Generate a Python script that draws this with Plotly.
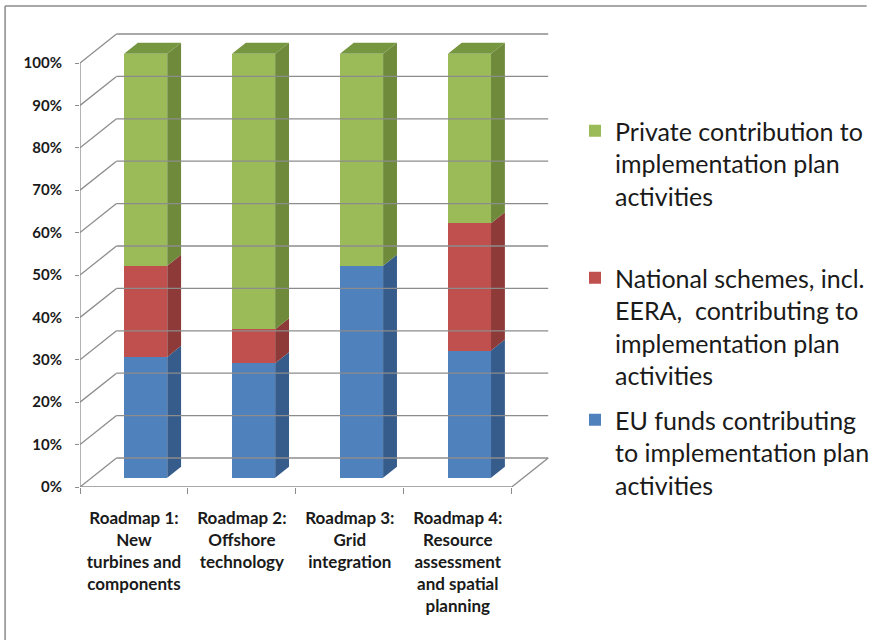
import plotly.graph_objects as go

# ---- data -------------------------------------------------------------
categories = [
    "Roadmap 1:<br>New<br>turbines and<br>components",
    "Roadmap 2:<br>Offshore<br>technology",
    "Roadmap 3:<br>Grid<br>integration",
    "Roadmap 4:<br>Resource<br>assessment<br>and spatial<br>planning",
]
eu_funds = [28.5, 27, 50, 30]
national_schemes = [21.5, 8, 0, 30]
private_contrib = [50, 65, 50, 40]
y_ticks = [0, 10, 20, 30, 40, 50, 60, 70, 80, 90, 100]

series_names = [
    "EU funds contributing<br>to implementation plan<br>activities",
    "National schemes, incl.<br>EERA,  contributing to<br>implementation plan<br>activities",
    "Private contribution to<br>implementation plan<br>activities",
]
series_values = [eu_funds, national_schemes, private_contrib]
front_colors = ["#4F81BD", "#C0504D", "#9BBB59"]
side_colors = ["#365C8C", "#8E3A38", "#6E8A3A"]
top_colors = ["#446FA3", "#A54542", "#779640"]
legend_ids = ["legend3", "legend2", "legend"]

# ---- geometry of the oblique 3-D view (in axis units) -----------------
FONT = "Lato"
W, H = 878, 640
M_L, M_R, M_T, M_B = 80, 308, 25, 153
PX_PER_CAT = 109.5
PX_PER_PCT = 4.24
DEPTH_X = 37 / PX_PER_CAT      # full floor depth, horizontal part
DEPTH_Y = 29 / PX_PER_PCT      # full floor depth, vertical part
BAR_W = 0.4
F_FRONT, F_BACK = 0.32, 0.70   # depth fractions of the bars' faces
N = len(categories)

x_max = (W - M_L - M_R) / PX_PER_CAT
y_max = (H - M_T - M_B) / PX_PER_PCT
GRID = "#8C8C8C"


def proj(x, y, f):
    """Point on the front plane (x, y) pushed back by depth fraction f."""
    return x + f * DEPTH_X, y + f * DEPTH_Y


fig = go.Figure()

# ---- walls, floor and gridlines --------------------------------------
gx, gy = [], []
for v in y_ticks:
    # back wall line
    for p in (proj(0, v, 1), proj(N, v, 1)):
        gx.append(p[0]); gy.append(p[1])
    gx.append(None); gy.append(None)
    # side wall line
    for p in (proj(0, v, 0), proj(0, v, 1)):
        gx.append(p[0]); gy.append(p[1])
    gx.append(None); gy.append(None)
# front axis line and floor edges
for a, b in [((0, 0, 0), (0, 100, 0)), ((0, 0, 0), (N, 0, 0)), ((N, 0, 0), (N, 0, 1))]:
    for p in (proj(*a), proj(*b)):
        gx.append(p[0]); gy.append(p[1])
    gx.append(None); gy.append(None)

fig.add_trace(go.Scatter(x=gx, y=gy, mode="lines", line=dict(color=GRID, width=1.3),
                         hoverinfo="skip", showlegend=False, xaxis="x2"))

# ---- stacked 3-D bars --------------------------------------------------
bottoms = [0.0] * N
for k, (name, vals) in enumerate(zip(series_names, series_values)):
    xs_front, bases = [], []
    sx, sy, tx, ty = [], [], [], []
    for i, v in enumerate(vals):
        y0 = bottoms[i]
        y1 = y0 + v
        xc = i + 0.5
        xl, xr = xc - BAR_W / 2, xc + BAR_W / 2
        xs_front.append(xc + F_FRONT * DEPTH_X)
        bases.append(y0 + F_FRONT * DEPTH_Y)
        if v > 0:
            for p in (proj(xr, y0, F_FRONT), proj(xr, y0, F_BACK), proj(xr, y1, F_BACK),
                      proj(xr, y1, F_FRONT), proj(xr, y0, F_FRONT)):
                sx.append(p[0]); sy.append(p[1])
            sx.append(None); sy.append(None)
            if abs(y1 - 100) < 1e-9:
                for p in (proj(xl, y1, F_FRONT), proj(xr, y1, F_FRONT), proj(xr, y1, F_BACK),
                          proj(xl, y1, F_BACK), proj(xl, y1, F_FRONT)):
                    tx.append(p[0]); ty.append(p[1])
                tx.append(None); ty.append(None)
        bottoms[i] = y1

    fig.add_trace(go.Scatter(x=sx, y=sy, mode="lines", fill="toself",
                             fillcolor=side_colors[k], line=dict(width=0, color=side_colors[k]),
                             hoverinfo="skip", showlegend=False))
    if tx:
        fig.add_trace(go.Scatter(x=tx, y=ty, mode="lines", fill="toself",
                                 fillcolor=top_colors[k], line=dict(width=0, color=top_colors[k]),
                                 hoverinfo="skip", showlegend=False))
    fig.add_trace(go.Bar(x=xs_front, y=vals, base=bases, width=BAR_W, name=name,
                         marker=dict(color=front_colors[k], line=dict(width=0)),
                         legend=legend_ids[k]))

# ---- frame around the chart -------------------------------------------
plot_w = W - M_L - M_R
plot_h = H - M_T - M_B


def paper_x(px):
    return (px - M_L) / plot_w


def paper_y(py):
    return (H - M_B - py) / plot_h


frame = dict(type="line", xref="paper", yref="paper", line=dict(color="#8A8A8A", width=1.5))
shapes = [
    dict(frame, x0=paper_x(4), x1=paper_x(W), y0=paper_y(6), y1=paper_y(6)),
    dict(frame, x0=paper_x(4), x1=paper_x(4), y0=paper_y(6), y1=paper_y(H)),
]

legend_common = dict(xref="container", yref="container", xanchor="left", yanchor="top",
                     valign="top", bgcolor="rgba(0,0,0,0)",
                     font=dict(family=FONT, size=25, color="#1A1A1A"))

fig.update_layout(
    width=W, height=H,
    margin=dict(l=M_L, r=M_R, t=M_T, b=M_B),
    paper_bgcolor="white", plot_bgcolor="white",
    barmode="overlay", bargap=0,
    shapes=shapes,
    xaxis=dict(range=[0, x_max], tickvals=list(range(N + 1)), ticktext=[""] * (N + 1),
               ticks="outside", ticklen=6, tickcolor=GRID, tickwidth=1.3,
               showgrid=False, zeroline=False, showline=False, fixedrange=True),
    xaxis2=dict(range=[0, x_max], overlaying="x", anchor="y", side="bottom",
                tickvals=[i + 0.5 for i in range(N)], ticktext=categories,
                ticks="", ticklabelstandoff=19,
                tickfont=dict(family=FONT, size=17, color="#1A1A1A", weight="bold"),
                showgrid=False, zeroline=False, showline=False, fixedrange=True),
    yaxis=dict(range=[0, y_max], tickvals=y_ticks, ticktext=[f"{v}%" for v in y_ticks],
               ticks="outside", ticklen=4, tickcolor=GRID, tickwidth=1.3,
               ticklabelstandoff=10,
               tickfont=dict(family=FONT, size=15, color="#1A1A1A", weight="bold"),
               showgrid=False, zeroline=False, showline=False, fixedrange=True),
    legend=dict(legend_common, x=575 / W, y=1 - 108 / H),
    legend2=dict(legend_common, x=575 / W, y=1 - 255 / H),
    legend3=dict(legend_common, x=575 / W, y=1 - 397 / H),
)

# keep the page from scrolling so the full 878x640 figure shows
page_js = ("document.body.style.margin='0';"
           "document.documentElement.style.overflow='hidden';"
           "document.body.style.overflow='hidden';")

fig.write_html("out.html", config={"displayModeBar": False}, post_script=page_js)
